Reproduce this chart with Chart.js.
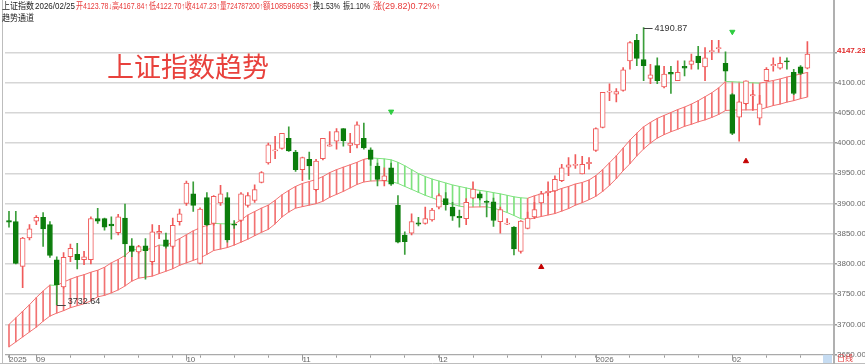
<!DOCTYPE html>
<html><head><meta charset="utf-8">
<script src="https://cdn.jsdelivr.net/npm/chart.js@4/dist/chart.umd.min.js"></script>
<style>html,body{margin:0;padding:0;background:#fff;overflow:hidden}</style>
</head><body>
<canvas id="c" width="865" height="364" style="width:865px;height:364px;display:block"></canvas>
<script>
// ---------------- DATA ----------------
const dates = [
'2025-08-26','2025-08-27','2025-08-28','2025-08-29',
'2025-09-01','2025-09-02','2025-09-03','2025-09-04','2025-09-05','2025-09-08','2025-09-09','2025-09-10','2025-09-11','2025-09-12',
'2025-09-15','2025-09-16','2025-09-17','2025-09-18','2025-09-19','2025-09-22','2025-09-23','2025-09-24','2025-09-25','2025-09-26','2025-09-29','2025-09-30',
'2025-10-09','2025-10-10','2025-10-13','2025-10-14','2025-10-15','2025-10-16','2025-10-17','2025-10-20','2025-10-21','2025-10-22','2025-10-23','2025-10-24',
'2025-10-27','2025-10-28','2025-10-29','2025-10-30','2025-10-31',
'2025-11-03','2025-11-04','2025-11-05','2025-11-06','2025-11-07','2025-11-10','2025-11-11','2025-11-12','2025-11-13','2025-11-14',
'2025-11-17','2025-11-18','2025-11-19','2025-11-20','2025-11-21','2025-11-24','2025-11-25','2025-11-26','2025-11-27','2025-11-28',
'2025-12-01','2025-12-02','2025-12-03','2025-12-04','2025-12-05','2025-12-08','2025-12-09','2025-12-10','2025-12-11','2025-12-12',
'2025-12-15','2025-12-16','2025-12-17','2025-12-18','2025-12-19','2025-12-22','2025-12-23','2025-12-24','2025-12-25','2025-12-26',
'2025-12-29','2025-12-30','2025-12-31',
'2026-01-05','2026-01-06','2026-01-07','2026-01-08','2026-01-09','2026-01-12','2026-01-13','2026-01-14','2026-01-15','2026-01-16',
'2026-01-19','2026-01-20','2026-01-21','2026-01-22','2026-01-23','2026-01-26','2026-01-27','2026-01-28','2026-01-29','2026-01-30',
'2026-02-02','2026-02-03','2026-02-04','2026-02-05','2026-02-06','2026-02-09','2026-02-10','2026-02-11','2026-02-12','2026-02-13',
'2026-02-24','2026-02-25'
];
const openPrices = [
3872,3870,3796,3843,
3871,3877,3865,3807,3762, 3812,3816,3807,3807,3875, 3875,3866,3852,3876,3830, 3820,3830,3804,3851,3840, 3829,3870,
3900,3916, 3801,3910,3867,3901,3910, 3866,3872,3897,3905,3935, 3967,3987,3991,4008,3985,
3956,3973,3923,3974,3995, 4003,4024,3996,3997,4008, 3989,3962,3938,3959,3897, 3848,3851,3868,3867,3873,
3894,3908,3894,3879,3875, 3909,3916,3903,3903,3870, 3866,3861,3821,3859,3878, 3901,3918,3921,3938,3960, 3963,3949,3966,
3988,4026,4084,4081,4087, 4136,4170,4138,4107,4128, 4093,4117,4103,4127,4130, 4144,4126,4151,4156,4132,
4080,4043,4065,4078,4041, 4103,4128,4124,4136,4117, 4126,4123.78
];
const highPrices = [
3887,3887,3844,3865,
3880,3885,3870,3812,3819, 3833,3834,3821,3878,3892, 3876,3878,3882,3899,3842, 3831,3842,3865,3864,3851, 3876,3891,
3937,3936, 3893,3918,3913,3930,3918, 3872,3918,3918,3931,3953, 4000,4011,4016,4027,3988,
3977,3985,3973,4008,4019, 4024,4024,4016,4035,4033, 3992,3967,3959,3967,3913, 3853,3883,3877,3894,3892,
3916,3918,3902,3889,3908, 3936,3918,3905,3909,3894, 3875,3862,3872,3886,3902, 3920,3936,3946,3965,3976, 3981,3978,3976,
4025,4084,4098,4090,4125, 4168,4180,4190.87,4130,4141, 4127,4127,4136,4136,4147, 4160,4158,4170,4170,4151,
4082,4068,4103,4087,4079, 4125,4141,4142,4141,4122, 4128,4167.84
];
const lowPrices = [
3861,3800,3761,3840,
3865,3829,3811,3732.64,3760, 3804,3792,3799,3800,3867, 3856,3841,3848,3812,3812, 3818,3775,3799,3842,3826, 3826,3864,
3897,3887, 3800,3863,3864,3897,3836, 3859,3870,3894,3902,3934, 3965,3974,3990,3986,3953,
3938,3940,3921,3972,3995, 3990,3995,3984,3992,3990, 3963,3929,3929,3930,3835, 3816,3848,3863,3866,3871,
3891,3889,3872,3861,3865, 3908,3906,3878,3862,3851, 3865,3815,3818,3858,3875, 3900,3913,3920,3936,3946, 3958,3949,3957,
3986,4025,4070,4068,4086, 4122,4128,4103,4098,4098, 4091,4082,4103,4111,4122, 4122,4103,4138,4150,4103,
4014,4003,4063,4054,4030, 4103,4119,4122,4122,4080, 4113,4122.70
];
const closePrices = [
3869,3801,3843,3858,
3877,3858,3814,3766,3811, 3826,3807,3812,3875,3871, 3861,3863,3878,3833,3821, 3829,3822,3853,3854,3829, 3864,3883,
3934,3897, 3891,3865,3912,3916,3840, 3864,3916,3913,3923,3951, 3997,3989,4016,3987,3956,
3976,3962,3970,4008,3997, 4019,4004,4000,4030,3992, 3973,3940,3946,3932,3836, 3837,3870,3866,3875,3889,
3913,3898,3879,3876,3902, 3924,3909,3902,3872,3890, 3867,3825,3871,3876,3890, 3916,3920,3940,3959,3964, 3965,3965,3968,
4024,4084,4086,4085,4121, 4166,4140,4128,4113,4103, 4114,4114,4117,4124,4136, 4133,4141,4153,4158,4119,
4016,4068,4103,4080,4065, 4122,4130,4132,4134,4082, 4115,4147.23
];
const channelUpper = [
3700.0,3710.9,3721.7,3732.6,
3744.5,3755.4,3765.2,3764.4,3770.1, 3775.0,3779.1,3782.3,3786.4,3789.7, 3794.6,3801.9,3807.6,3814.1,3823.9, 3823.4,3823.1,3826.4,3831.3,3830.8, 3836.1,3841.9,
3848.4,3854.9, 3859.8,3863.9,3867.1,3866.6,3866.3, 3866.0,3872.8,3881.0,3886.7,3892.4, 3897.3,3905.4,3914.4,3921.7,3928.3,
3933.2,3936.4,3939.7,3944.6,3951.1, 3956.0,3960.1,3964.1,3968.2,3973.1, 3975.5,3974.7,3973.9,3972.3,3968.2, 3962.5,3956.0,3949.5,3944.6,3940.5,
3937.2,3934.0,3930.7,3928.3,3925.8, 3923.4,3921.7,3920.1,3918.0,3916.0, 3913.6,3911.1,3909.5,3908.7,3912.8, 3916.0,3918.5,3920.9,3925.0,3928.3, 3932.3,3934.8,3938.9,
3946.2,3956.0,3967.4,3978.8,3991.8, 4004.9,4016.3,4026.9,4034.2,4040.8, 4045.7,4050.5,4055.4,4059.5,4064.4, 4070.1,4076.6,4083.2,4091.3,4101.9,
4101.4,4100.8,4100.1,4099.6,4099.1, 4101.1,4103.5,4106.0,4109.2,4111.7, 4114.1,4116.9
];
const channelLower = [
3663.0,3671.1,3679.3,3687.5,
3695.6,3705.4,3713.9,3718.8,3722.8, 3727.7,3731.0,3734.2,3739.1,3745.7, 3748.1,3752.2,3757.1,3763.6,3771.7, 3776.6,3778.3,3779.9,3784.0,3788.0, 3792.1,3797.8,
3801.9,3806.0, 3810.1,3815.8,3822.3,3824.7,3827.2, 3831.3,3836.1,3841.0,3846.7,3852.4, 3857.3,3866.3,3877.7,3885.9,3892.4,
3894.8,3897.3,3899.7,3903.8,3910.3, 3915.2,3920.1,3925.8,3931.5,3935.6, 3937.2,3937.6,3937.7,3936.4,3933.2, 3928.3,3923.4,3918.5,3913.6,3909.5,
3905.4,3902.2,3898.9,3895.7,3894.0, 3894.2,3894.4,3894.5,3892.4,3889.1, 3885.1,3880.2,3874.9,3873.6,3876.1, 3878.5,3881.0,3883.4,3887.5,3891.6, 3897.3,3901.4,3906.3,
3912.0,3920.1,3929.9,3941.3,3954.3, 3965.8,3978.8,3990.2,4000.0,4008.2, 4013.9,4018.7,4022.8,4027.7,4031.0, 4035.1,4038.3,4042.4,4047.3,4053.8,
4054.6,4054.7,4054.8,4054.9,4055.4, 4058.7,4062.0,4064.4,4067.7,4070.1, 4073.4,4076.1
];
// first and last date of the falling (green) channel
const fallingChannel = ['2025-11-17', '2025-12-17'];
// signal markers
const sellSignalDates = ['2025-11-20', '2026-02-02'];
const sellSignalLevels = [4052, 4184];
const buySignalDates = ['2025-12-22', '2026-02-04'];
const buySignalLevels = [3795, 3970];
// price axis ticks
const priceTicks = [3650,3700,3750,3800,3850,3900,3950,4000,4050,4100,4150];
// header quote
const quoteName = '上证指数';
const quoteVolume = '724787200';
const quoteAmount = '108596953';
const quoteTurnover = '1.53%';
const quoteAmplitude = '1.10%';
const quoteChange = '29.82';
const quoteChangePct = '0.72%';
const indicatorName = '趋势通道';
const chartTitle = '上证指数趋势';
const periodName = '日线';

// ---------------- HELPERS ----------------
const N = dates.length;
const RED = '#f05a5a', GREEN = '#0c7d0c', GREEN_WICK = '#3a9e3a';
const BAND_RED = '#f27272', BAND_GREEN = '#7ee27e';
const idxOf = d => dates.indexOf(d);
const fall0 = idxOf(fallingChannel[0]), fall1 = idxOf(fallingChannel[1]);
const isUp = i => closePrices[i] >= openPrices[i];
const lowIdx = lowPrices.indexOf(Math.min(...lowPrices));
const highIdx = highPrices.indexOf(Math.max(...highPrices));

// x-axis ticks: first trading day of each week (minor) and of each month (labelled)
const monthLabel = {};
const xTickValues = [];
const weekKey = s => { const d = new Date(s + 'T00:00:00Z'); const k = new Date(d.getTime() - ((d.getUTCDay() + 6) % 7) * 86400000); return k.toISOString().slice(0,10); };
dates.forEach((s, i) => {
  const prev = i > 0 ? dates[i-1] : null;
  const newMonth = !prev || prev.slice(0,7) !== s.slice(0,7);
  const newWeek = !prev || weekKey(prev) !== weekKey(s);
  if (newMonth) monthLabel[i] = (i === 0 || s.slice(5,7) === '01') ? s.slice(0,4) : s.slice(5,7);
  if (newMonth || newWeek) xTickValues.push(i);
});

const FONT = '"Liberation Sans", Arial, "Noto Sans CJK SC", sans-serif';

const overlay = {
  id: 'overlay',
  afterDraw(chart) {
    const ctx = chart.ctx, xs = chart.scales.x, ys = chart.scales.y, ca = chart.chartArea;
    ctx.save();
    // frame lines
    ctx.strokeStyle = '#bdbdbd'; ctx.lineWidth = 1;
    ctx.beginPath(); ctx.moveTo(2.5, 0); ctx.lineTo(2.5, 364); ctx.stroke();
    ctx.beginPath(); ctx.moveTo(0, 363.5); ctx.lineTo(865, 363.5); ctx.stroke();
    ctx.strokeStyle = '#b0b0b0'; ctx.lineWidth = 2;
    ctx.beginPath(); ctx.moveTo(ca.right, 0); ctx.lineTo(ca.right, 364); ctx.stroke();
    // longer month ticks
    ctx.strokeStyle = '#9a9a9a'; ctx.lineWidth = 1;
    Object.keys(monthLabel).forEach(k => {
      const x = Math.round(xs.getPixelForValue(+k)) + 0.5;
      ctx.beginPath(); ctx.moveTo(x, ca.bottom); ctx.lineTo(x, ca.bottom + 6); ctx.stroke();
    });
    // current-position box on the time axis
    ctx.fillStyle = '#c6dcf2'; ctx.fillRect(823, ca.bottom, 9, 364 - ca.bottom - 1);
    // period name
    ctx.fillStyle = '#e23b3b'; ctx.font = '8px ' + FONT; ctx.textBaseline = 'middle'; ctx.textAlign = 'left';
    ctx.fillText(periodName, 837, 358.5);
    // last price label on the price axis
    ctx.font = 'bold 8px ' + FONT; ctx.fillStyle = '#e02a2a';
    ctx.fillText(closePrices[N-1].toFixed(2), ca.right + 3, ys.getPixelForValue(closePrices[N-1]) - 3);
    // header
    const last = N - 1;
    const parts = [
      [quoteName, '#222', 2, 32],
      [dates[last].replace(/-/g, '/'), '#222', 35, 40],
      ['开' + openPrices[last].toFixed(2) + '↓', '#e83a3a', 76, 36],
      ['高' + highPrices[last].toFixed(2) + '↑', '#e83a3a', 112, 36],
      ['低' + lowPrices[last].toFixed(2) + '↑', '#e83a3a', 149, 36],
      ['收' + closePrices[last].toFixed(2) + '↑', '#e83a3a', 185, 35],
      ['量' + quoteVolume + '↑', '#e83a3a', 220, 43],
      ['额' + quoteAmount + '↑', '#e83a3a', 263, 49],
      ['换' + quoteTurnover, '#222', 313, 27],
      ['振' + quoteAmplitude, '#222', 343, 27],
      ['涨(' + quoteChange + ')' + quoteChangePct + '↑', '#e83a3a', 373, 91]
    ];
    ctx.font = '9px ' + FONT; ctx.textBaseline = 'middle';
    parts.forEach(p => { ctx.fillStyle = p[1]; ctx.fillText(p[0], p[2], 7, p[3]); });
    ctx.fillStyle = '#222'; ctx.fillText(indicatorName, 2, 19, 32);
    // big title
    ctx.font = '27px "Noto Sans CJK SC", sans-serif'; ctx.fillStyle = '#e8413c';
    ctx.fillText(chartTitle, 107, 67);
    // extreme labels
    ctx.font = '9px ' + FONT; ctx.fillStyle = '#333'; ctx.strokeStyle = '#444'; ctx.lineWidth = 1;
    let x = xs.getPixelForValue(lowIdx), y = Math.round(ys.getPixelForValue(lowPrices[lowIdx])) + 0.5;
    ctx.beginPath(); ctx.moveTo(x, y); ctx.lineTo(x + 9, y); ctx.stroke();
    ctx.textBaseline = 'alphabetic'; ctx.fillText(lowPrices[lowIdx].toFixed(2), x + 11, y - 1.5);
    x = xs.getPixelForValue(highIdx); y = Math.round(ys.getPixelForValue(highPrices[highIdx])) + 0.5;
    ctx.beginPath(); ctx.moveTo(x, y); ctx.lineTo(x + 9, y); ctx.stroke();
    ctx.textBaseline = 'middle'; ctx.fillText(highPrices[highIdx].toFixed(2), x + 11, y);
    ctx.restore();
  }
};

const pts = arr => arr.map((v, i) => ({x: i, y: v}));
const segColor = ctx => ctx.p1.parsed.y < ctx.p0.parsed.y ? BAND_GREEN : BAND_RED;

new Chart(document.getElementById('c'), {
  type: 'bar',
  data: {
    datasets: [
      { type: 'bar', order: 6, grouped: false, barThickness: 1,
        data: dates.map((d, i) => ({x: i, y: [channelLower[i], channelUpper[i]]})),
        backgroundColor: dates.map((d, i) => (i >= fall0 && i <= fall1) ? BAND_GREEN : BAND_RED) },
      { type: 'line', order: 5, data: pts(channelUpper), borderWidth: 1, pointRadius: 0, tension: 0,
        borderColor: BAND_RED, segment: { borderColor: segColor } },
      { type: 'line', order: 5, data: pts(channelLower), borderWidth: 1, pointRadius: 0, tension: 0,
        borderColor: BAND_RED, segment: { borderColor: segColor } },
      { type: 'bar', order: 3, grouped: false, barThickness: 1,
        data: dates.map((d, i) => ({x: i, y: [lowPrices[i], highPrices[i]]})),
        backgroundColor: dates.map((d, i) => isUp(i) ? RED : GREEN_WICK) },
      { type: 'bar', order: 2, grouped: false, barThickness: 5, minBarLength: 1, borderSkipped: false,
        data: dates.map((d, i) => ({x: i, y: [Math.min(openPrices[i], closePrices[i]), Math.max(openPrices[i], closePrices[i])]})),
        backgroundColor: dates.map((d, i) => isUp(i) ? '#ffffff' : GREEN),
        borderColor: dates.map((d, i) => isUp(i) ? RED : GREEN), borderWidth: 1 },
      { type: 'line', order: 1, showLine: false, pointStyle: 'triangle', rotation: 180, pointRadius: 3,
        pointBackgroundColor: '#2ecc40', pointBorderColor: '#2ecc40', pointBorderWidth: 1,
        data: sellSignalDates.map((d, k) => ({x: idxOf(d), y: sellSignalLevels[k]})) },
      { type: 'line', order: 1, showLine: false, pointStyle: 'triangle', rotation: 0, pointRadius: 3,
        pointBackgroundColor: '#c40000', pointBorderColor: '#c40000', pointBorderWidth: 1,
        data: buySignalDates.map((d, k) => ({x: idxOf(d), y: buySignalLevels[k]})) }
    ]
  },
  options: {
    responsive: false, animation: false, devicePixelRatio: 1,
    layout: { padding: { left: 3, top: 0, right: 0, bottom: 0 } },
    plugins: { legend: { display: false }, tooltip: { enabled: false } },
    scales: {
      x: {
        type: 'linear', min: -0.585, max: 120.9, offset: false,
        grid: { offset: false, drawOnChartArea: false, drawTicks: true, tickLength: 3, color: '#9a9a9a' },
        border: { color: '#aaaaaa', width: 1 },
        afterBuildTicks: s => { s.ticks = xTickValues.map(v => ({value: v})); },
        afterFit: s => { s.height = 364 - 354.7; },
        ticks: { autoSkip: false, maxRotation: 0, align: 'start', padding: -3, color: '#666',
          font: { size: 8, family: FONT }, callback: v => monthLabel[v] || '' }
      },
      y: {
        type: 'linear', position: 'right', min: 3650, max: 4228.3,
        grid: { color: '#d6d6d6', lineWidth: 1.5, tickLength: 3, tickColor: '#9a9a9a' },
        border: { color: '#b0b0b0', width: 2 },
        afterBuildTicks: s => { s.ticks = priceTicks.map(v => ({value: v})); },
        afterFit: s => { s.width = 31; },
        ticks: { padding: 0, color: '#666', font: { size: 8, family: FONT },
          callback: v => (Math.abs(v - closePrices[N-1]) < 25 && v > 4140) ? '' : v.toFixed(2) }
      }
    }
  },
  plugins: [overlay]
});
</script>
</body></html>
